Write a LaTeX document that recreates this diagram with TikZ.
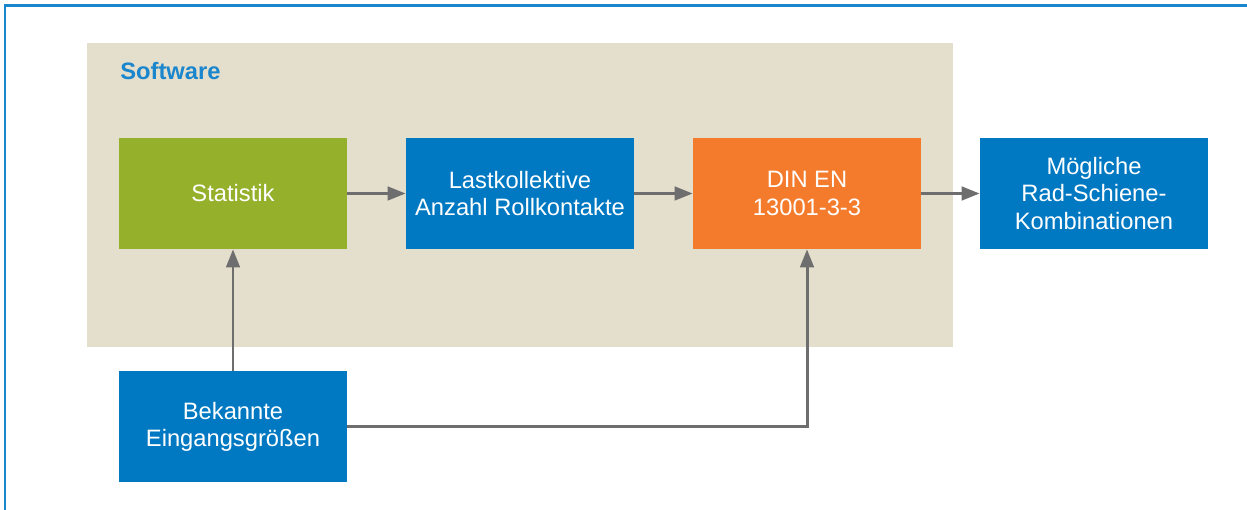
\documentclass[tikz,border=0pt]{standalone}
\usepackage{fontspec}
\setmainfont{Liberation Sans}
\usetikzlibrary{arrows.meta}
\definecolor{frameblue}{HTML}{1A86CD}
\definecolor{boxblue}{HTML}{0079C2}
\definecolor{boxgreen}{HTML}{95B02A}
\definecolor{boxorange}{HTML}{F47A2C}
\definecolor{softbg}{HTML}{E4DECC}
\definecolor{arrowgray}{HTML}{6E6E6E}
\begin{document}
\begin{tikzpicture}[
    box/.style={minimum width=4.56cm,minimum height=2.22cm,inner sep=0pt,
      text=white,align=center,font=\fontsize{13.5}{15.5}\selectfont},
    flow/.style={-{Triangle[length=0.36cm,width=0.27cm]},arrowgray,line width=1.7pt}]
    \useasboundingbox (0,0) rectangle (24.94,-10.2);
    \draw[frameblue,line width=1.7pt] (0.1,-10.2) -- (0.1,-0.12) -- (24.94,-0.12);
    \fill[softbg] (1.74,-0.86) rectangle (19.06,-6.94);
    \node[anchor=west,inner sep=0pt,text=frameblue,font=\fontsize{13.5}{15.5}\selectfont\bfseries] (sw) at (2.4,-1.42) {Software};
    \node[box,fill=boxgreen] (stat) at (4.66,-3.87) {Statistik};
    \node[box,fill=boxblue] (last) at (10.4,-3.87) {Lastkollektive\\Anzahl Rollkontakte};
    \node[box,fill=boxorange] (din) at (16.14,-3.87) {DIN EN\\13001-3-3};
    \node[box,fill=boxblue] (moeg) at (21.88,-3.87) {Mögliche\\Rad-Schiene-\\Kombinationen};
    \node[box,fill=boxblue] (bek) at (4.66,-8.53) {Bekannte\\Eingangsgrößen};
    \draw[flow] (stat) -- (last);
    \draw[flow] (last) -- (din);
    \draw[flow] (din) -- (moeg);
    \draw[flow] (bek) -- (stat);
    \draw[flow] (bek.east) -| (din.south);
  \end{tikzpicture}
\end{document}
